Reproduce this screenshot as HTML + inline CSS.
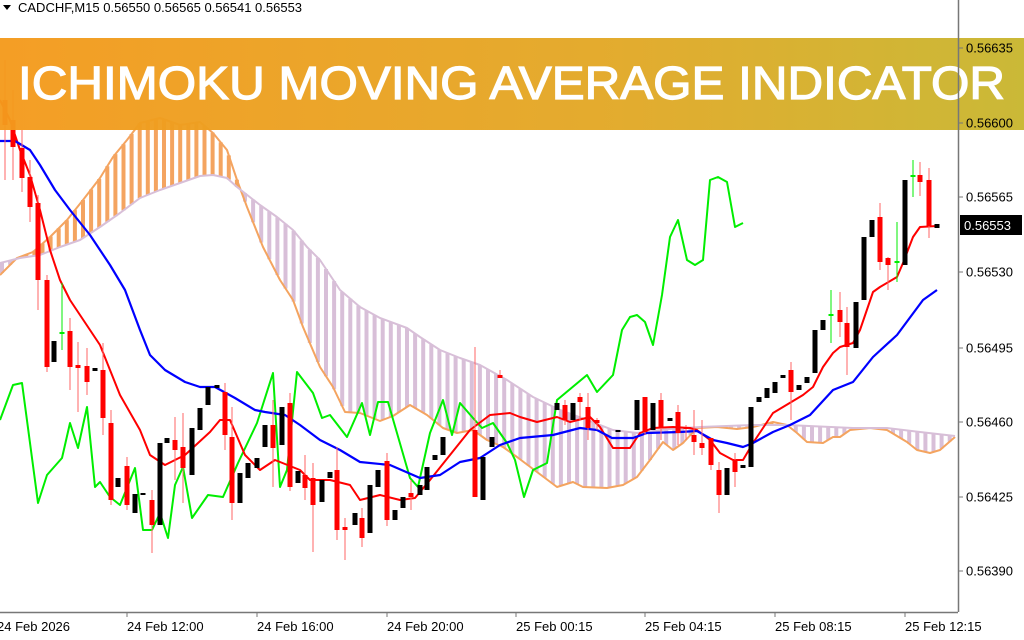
<!DOCTYPE html>
<html><head><meta charset="utf-8"><style>
html,body{margin:0;padding:0;background:#fff;width:1024px;height:640px;overflow:hidden}
svg{display:block}
text{font-family:"Liberation Sans",sans-serif}
</style></head><body>
<svg id="s" width="1024" height="640" viewBox="0 0 1024 640" xmlns="http://www.w3.org/2000/svg">
<g id="cloud"></g>
<g id="lines"></g>
<g id="candles"></g>
<defs><linearGradient id="bg" x1="0" x2="1" y1="0" y2="0">
<stop offset="0" stop-color="#f49a1c"/><stop offset="0.6" stop-color="#e2a826"/><stop offset="1" stop-color="#c8b62f"/></linearGradient></defs>
<rect x="0" y="38" width="1024" height="92" fill="url(#bg)" opacity="0.96"/>
<text x="18" y="99" font-size="46" fill="#fff" stroke="#fff" stroke-width="1.2" textLength="987" lengthAdjust="spacingAndGlyphs">ICHIMOKU MOVING AVERAGE INDICATOR</text>
<line x1="958.5" y1="0" x2="958.5" y2="612" stroke="#777" stroke-width="1.5"/>
<line x1="0" y1="612.5" x2="958" y2="612.5" stroke="#777" stroke-width="1.5"/>
<g font-size="12" fill="#000" id="ax"></g>
<rect x="960" y="215" width="62" height="20" fill="#000"/>
<text x="964" y="230" font-size="13" fill="#fff">0.56553</text>
<path d="M3,5 L11,5 L7,10 Z" fill="#000"/>
<text x="18" y="12" font-size="13" fill="#000">CADCHF,M15  0.56550 0.56565 0.56541 0.56553</text>
</svg>
<script>
var NS="http://www.w3.org/2000/svg";
function el(p,t,a){var e=document.createElementNS(NS,t);for(var k in a)e.setAttribute(k,a[k]);p.appendChild(e);return e;}
function interp(pts,x){if(x<=pts[0][0])return pts[0][1];for(var i=1;i<pts.length;i++){if(x<=pts[i][0]){var a=pts[i-1],b=pts[i];return a[1]+(b[1]-a[1])*(x-a[0])/(b[0]-a[0]);}}return pts[pts.length-1][1];}
var A=[[0,275],[17,258],[33,252],[50,237],[67,220],[83,200],[100,178],[113,157],[127,140],[140,123],[160,118],[180,125],[200,122],[213,133],[227,150],[237,180],[247,207],[263,247],[280,280],[293,300],[303,327],[320,367],[333,387],[345,412],[360,413],[380,421],[393,416],[410,405],[427,415],[443,428],[457,433],[473,430],[487,440],[503,447],[517,457],[537,472],[557,487],[573,482],[583,487],[607,488],[623,485],[637,477],[650,460],[663,442],[673,450],[683,443],[697,428],[717,427],[737,429],[753,427],[773,422],[787,425],[797,433],[807,442],[823,443],[833,437],[840,437],[850,430],[870,428],[887,430],[907,442],[917,450],[930,453],[940,450],[955,437]];
var B=[[0,263],[20,258],[40,255],[60,247],[80,240],[100,227],[120,213],[140,198],[160,190],[180,183],[200,176],[213,175],[227,178],[237,187],[260,205],[277,217],[293,230],[307,247],[320,260],[340,290],[360,307],[380,318],[407,328],[420,337],[440,350],[460,358],[480,365],[507,380],[533,397],[560,410],[587,420],[613,430],[637,433],[670,429],[700,427],[753,425],[787,425],[853,428],[887,428],[920,432],[955,436]];
var cl=document.getElementById('cloud');
for(var x=2;x<956;x+=8.1){var a=interp(A,x),b=interp(B,x);var c=a<b?'#f4a460':'#d8bfd8';el(cl,'line',{x1:x,x2:x,y1:a,y2:b,stroke:c,'stroke-width':4});}
function pl(pts,col,w){el(document.getElementById('lines'),'polyline',{points:pts.map(function(p){return p.join(',')}).join(' '),fill:'none',stroke:col,'stroke-width':w,'stroke-linejoin':'round'});}
pl(A,'#f4a460',2);pl(B,'#d8bfd8',2);
var G=[[0,420],[13,385],[22,383],[38,503],[47,475],[62,458],[70,423],[78,448],[87,407],[95,487],[100,482],[110,497],[120,505],[135,468],[143,530],[152,530],[160,513],[168,538],[175,485],[183,467],[192,518],[208,495],[223,497],[238,463],[257,423],[273,373],[280,487],[287,470],[297,372],[313,393],[322,418],[330,415],[347,437],[362,403],[370,435],[378,402],[388,402],[410,478],[418,487],[430,433],[443,400],[452,435],[460,403],[473,418],[482,428],[493,423],[507,443],[515,460],[524,497],[533,470],[547,463],[557,400],[587,375],[597,392],[613,375],[622,330],[630,317],[637,315],[645,322],[653,345],[662,295],[670,237],[678,220],[687,260],[695,265],[703,260],[710,180],[718,177],[727,182],[735,227],[743,223]];
pl(G,'#00ee00',2);
var R=[[0,100],[10,120],[20,150],[30,175],[40,210],[50,250],[60,280],[70,300],[90,330],[100,345],[110,370],[120,395],[140,430],[150,455],[165,465],[185,455],[210,432],[220,420],[230,420],[245,455],[260,470],[275,460],[300,470],[310,480],[330,480],[350,485],[360,500],[380,495],[400,500],[415,498],[430,480],[450,455],[470,430],[490,415],[510,413],[520,417],[537,422],[557,417],[570,422],[590,417],[600,427],[613,448],[630,448],[640,433],[653,428],[673,427],[690,428],[697,430],[710,440],[720,453],[733,460],[743,460],[753,443],[773,413],[783,407],[803,395],[813,387],[823,367],[833,353],[840,347],[853,343],[860,330],[873,292],[880,287],[897,277],[903,263],[913,237],[920,227],[937,226]];
pl(R,'#ff0000',2);
var BL=[[0,141],[15,141],[30,150],[40,165],[55,190],[70,210],[90,235],[110,265],[125,290],[140,330],[150,355],[165,370],[185,382],[200,387],[215,387],[235,398],[255,410],[265,412],[285,415],[300,425],[320,440],[340,450],[360,462],[390,465],[420,478],[440,475],[460,462],[480,458],[500,445],[520,438],[553,435],[580,428],[597,430],[612,438],[633,438],[647,433],[680,432],[697,431],[713,440],[727,443],[743,447],[753,443],[773,432],[790,425],[810,415],[833,390],[853,382],[873,357],[897,335],[923,300],[937,290]];
pl(BL,'#0000ff',2.2);
var C=[[5,100,125,60,180,'r'],[13,120,147,90,180,'r'],[22,148,178,130,192,'r'],[30,177,207,160,222,'r'],[38,203,280,195,310,'r'],[47,280,367,275,372,'r'],[54,341,362,341,362,'k'],[62,332,333,283,350,'g'],[70,331,367,318,390,'r'],[78,365,368,342,412,'r'],[87,366,382,348,395,'r'],[95,368,371,368,371,'k'],[103,370,418,343,435,'r'],[111,423,500,410,505,'r'],[118,478,487,478,487,'k'],[127,466,505,457,510,'r'],[135,494,513,494,513,'k'],[143,493,495,493,495,'k'],[152,500,525,490,553,'r'],[160,443,525,443,525,'k'],[167,438,443,438,443,'k'],[175,440,450,417,480,'r'],[183,447,468,413,503,'r'],[192,428,475,428,475,'k'],[200,408,430,408,430,'k'],[208,387,405,387,405,'k'],[217,385,388,385,388,'k'],[225,392,435,383,450,'r'],[232,437,503,407,520,'r'],[240,473,503,473,503,'k'],[248,463,478,463,478,'k'],[257,458,468,458,468,'k'],[265,425,447,425,447,'k'],[273,425,448,400,487,'r'],[282,407,445,407,445,'k'],[290,403,487,393,491,'r'],[298,471,483,471,483,'k'],[305,475,488,455,500,'r'],[313,478,505,463,552,'r'],[322,480,502,480,502,'k'],[330,472,478,472,478,'k'],[337,470,530,447,540,'r'],[345,527,530,518,560,'r'],[355,513,525,513,525,'k'],[362,518,538,508,547,'r'],[370,485,533,485,533,'k'],[378,470,487,470,487,'k'],[387,461,520,453,526,'r'],[395,510,520,510,520,'k'],[403,497,508,497,508,'k'],[411,493,497,480,510,'r'],[420,485,495,485,495,'k'],[427,467,490,467,490,'k'],[435,455,460,455,460,'k'],[443,437,455,437,455,'k'],[475,430,497,347,497,'r'],[483,457,500,457,500,'k'],[492,437,447,437,447,'k'],[500,375,378,370,378,'r'],[557,403,410,403,410,'k'],[565,405,420,400,425,'r'],[573,403,420,403,420,'k'],[580,397,402,393,420,'r'],[588,407,428,393,440,'r'],[597,420,423,418,430,'r'],[618,430,432,430,432,'k'],[637,400,430,400,430,'k'],[645,397,432,397,435,'r'],[653,403,430,403,430,'k'],[661,400,428,393,440,'r'],[670,418,421,418,421,'k'],[678,412,433,405,445,'r'],[686,427,429,425,440,'r'],[694,435,442,410,455,'r'],[702,443,448,420,455,'r'],[711,438,465,438,470,'r'],[719,470,495,462,513,'r'],[727,468,495,468,495,'k'],[735,460,472,453,487,'r'],[743,465,468,465,468,'k'],[751,407,467,407,467,'k'],[759,397,402,397,402,'k'],[767,388,398,388,398,'k'],[775,382,393,382,393,'k'],[783,375,378,375,378,'k'],[791,370,392,362,420,'r'],[799,385,390,385,390,'k'],[807,377,383,377,383,'k'],[815,330,373,330,373,'k'],[823,320,330,320,330,'k'],[831,314,316,290,343,'g'],[840,310,322,292,337,'r'],[847,323,347,307,375,'r'],[856,302,348,302,348,'k'],[864,237,300,237,300,'k'],[872,220,237,220,237,'k'],[880,217,262,203,270,'r'],[888,258,265,257,290,'r'],[897,261,263,222,282,'g'],[905,180,265,180,265,'k'],[913,175,176,160,197,'g'],[920,175,182,162,196,'r'],[929,180,226,168,238,'r'],[937,224,228,224,228,'k']];
var cg=document.getElementById('candles');
C.forEach(function(c){var col=c[5]=='r'?'#ff0000':c[5]=='g'?'#00ee00':'#000';var wc=c[5]=='r'?'#ff6666':col;
el(cg,'line',{x1:c[0],x2:c[0],y1:c[3],y2:c[4],stroke:wc,'stroke-width':1});
el(cg,'rect',{x:c[0]-2.5,y:c[1],width:5,height:Math.max(2,c[2]-c[1]),fill:col});});
var ax=document.getElementById('ax');
[['0.56635',48],['0.56600',123],['0.56565',197],['0.56530',272],['0.56495',348],['0.56460',422],['0.56425',497],['0.56390',571]].forEach(function(p){
el(ax,'line',{x1:958,x2:963,y1:p[1],y2:p[1],stroke:'#777'});var t=el(ax,'text',{x:966,y:p[1]+4.5,'font-size':13,fill:'#000'});t.textContent=p[0];});
[['24 Feb 2026',-3,null],['24 Feb 12:00',127,127],['24 Feb 16:00',257,257],['24 Feb 20:00',387,387],['25 Feb 00:15',516,516],['25 Feb 04:15',645,645],['25 Feb 08:15',775,775],['25 Feb 12:15',905,905]].forEach(function(p){
if(p[2]!==null)el(ax,'line',{x1:p[2],x2:p[2],y1:612,y2:617,stroke:'#777'});var t=el(ax,'text',{x:p[1],y:631,'font-size':13,fill:'#000'});t.textContent=p[0];});
</script>
</body></html>
